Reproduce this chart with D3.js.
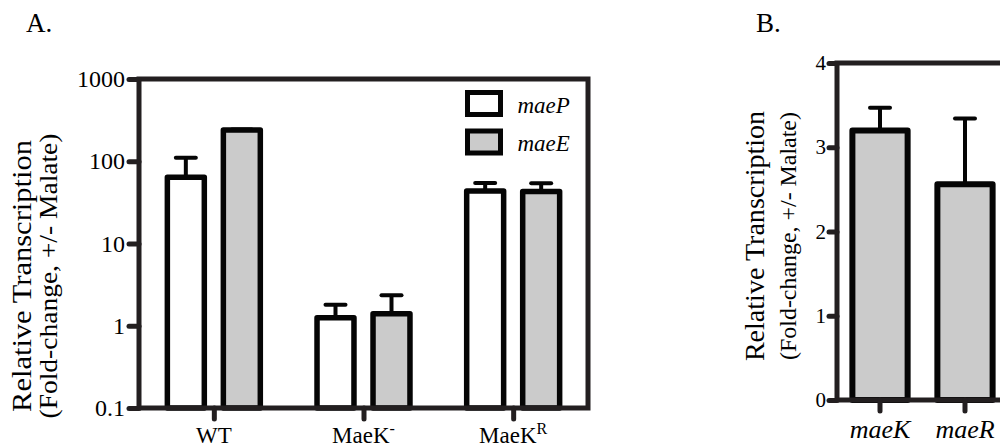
<!DOCTYPE html>
<html>
<head>
<meta charset="utf-8">
<script src="https://cdn.jsdelivr.net/npm/d3@7/dist/d3.min.js"></script>
<style>
  html, body { margin: 0; padding: 0; background: #fff; }
  svg { display: block; }
  svg text { font-family: "Liberation Serif", "Times New Roman", serif !important; fill: #000; }
</style>
</head>
<body>
<svg id="chart" width="1000" height="447"></svg>
<script>
// Panel A: fold-change of maeP / maeE per strain (log scale)
const strains = ["WT", "MaeK-", "MaeKR"];
const seriesNames = ["maeP", "maeE"];
const maePValues = [64, 1.25, 43.5];
const maePErrors = [46, 0.55, 11];
const maeEValues = [240, 1.4, 43];
const maeEErrors = [4, 0.95, 11];
const logTicks = [0.1, 1, 10, 100, 1000];

// Panel B: fold-change of maeK / maeR
const genes = ["maeK", "maeR"];
const geneValues = [3.2, 2.56];
const geneErrors = [0.27, 0.78];
const linearTicks = [0, 1, 2, 3, 4];

const FRAME = "#231f20";
const BAR_STROKE = "#050505";
const GREY = "#cbcbcb";
const svg = d3.select("#chart");

function frameTicks(g, axisGen) {
  g.call(axisGen);
  g.attr("font-family", null);
  g.select(".domain").remove();
  g.selectAll(".tick line")
    .attr("stroke", FRAME).attr("stroke-width", 5).attr("stroke-linecap", "round");
}

// rotated two-line axis title, each line stretched along its length
function yTitle(g, cx, cy, lines) {
  lines.forEach(l => {
    g.append("text")
      .attr("transform", `translate(${l.x},${cy}) rotate(-90) scale(${l.stretch},1)`)
      .attr("text-anchor", "middle").attr("font-size", l.size).text(l.text);
  });
}

// ---------- Panel A ----------
const A = { left: 139, right: 588, top: 79, bottom: 408 };
const yA = d3.scaleLog().domain([0.1, 1000]).range([A.bottom, A.top]);
const x0 = d3.scaleBand().domain(strains).range([A.left, A.right]).paddingInner(0).paddingOuter(0);
const x1 = d3.scaleBand().domain(seriesNames).range([-56, 56]).paddingInner(0.34).paddingOuter(0.17);

const rowsA = [];
strains.forEach((s, i) => {
  rowsA.push({ strain: s, series: "maeP", value: maePValues[i], err: maePErrors[i] });
  rowsA.push({ strain: s, series: "maeE", value: maeEValues[i], err: maeEErrors[i] });
});
const fillA = d3.scaleOrdinal().domain(seriesNames).range(["#ffffff", GREY]);
const cx = d => x0(d.strain) + x0.bandwidth() / 2 + x1(d.series) + x1.bandwidth() / 2;

const gA = svg.append("g");
gA.append("text").attr("x", 26).attr("y", 32).attr("font-size", 27).text("A.");

// error bars (behind bars)
const errA = gA.append("g").attr("stroke", BAR_STROKE).attr("stroke-width", 4);
errA.selectAll("line.stem").data(rowsA).join("line").attr("class", "stem")
  .attr("x1", cx).attr("x2", cx)
  .attr("y1", d => yA(d.value)).attr("y2", d => yA(d.value + d.err));
errA.selectAll("line.cap").data(rowsA).join("line").attr("class", "cap")
  .attr("stroke-linecap", "round")
  .attr("x1", d => cx(d) - 10).attr("x2", d => cx(d) + 10)
  .attr("y1", d => yA(d.value + d.err)).attr("y2", d => yA(d.value + d.err));

gA.append("g").selectAll("rect").data(rowsA).join("rect")
  .attr("x", d => cx(d) - x1.bandwidth() / 2)
  .attr("width", x1.bandwidth())
  .attr("y", d => yA(d.value))
  .attr("height", d => yA(0.1) - yA(d.value))
  .attr("fill", d => fillA(d.series))
  .attr("stroke", BAR_STROKE).attr("stroke-width", 5.5).attr("stroke-linejoin", "round");

// frame
gA.append("rect").attr("x", A.left).attr("y", A.top)
  .attr("width", A.right - A.left).attr("height", A.bottom - A.top)
  .attr("fill", "none").attr("stroke", FRAME).attr("stroke-width", 5);

// y axis
const yAxisA = gA.append("g").attr("transform", `translate(${A.left},0)`);
frameTicks(yAxisA, d3.axisLeft(yA).tickValues(logTicks).tickSize(10).tickPadding(4)
  .tickFormat(d3.format("~g")));
yAxisA.selectAll(".tick text").attr("font-size", 24).attr("fill", "#000");

// x axis
const xAxisA = gA.append("g").attr("transform", `translate(0,${A.bottom})`);
frameTicks(xAxisA, d3.axisBottom(d3.scalePoint().domain(strains)
  .range([x0(strains[0]) + x0.bandwidth() / 2, x0(strains[2]) + x0.bandwidth() / 2]))
  .tickSize(11).tickFormat(""));
const xLabA = gA.append("g").selectAll("text").data(strains).join("text")
  .attr("x", d => x0(d) + x0.bandwidth() / 2).attr("y", 443)
  .attr("text-anchor", "middle").attr("font-size", 23);
xLabA.each(function (d) {
  const t = d3.select(this);
  if (d === "WT") { t.text("WT"); return; }
  t.append("tspan").text("MaeK");
  t.append("tspan").attr("font-size", 16).attr("dy", -9).text(d === "MaeK-" ? "-" : "R");
});

// y title
yTitle(gA, 0, 276, [
  { x: 31, size: 28, stretch: 1.09, text: "Relative Transcription" },
  { x: 57, size: 25, stretch: 1.1, text: "(Fold-change, +/- Malate)" }
]);

// legend
const leg = gA.append("g").selectAll("g").data(seriesNames).join("g")
  .attr("transform", (d, i) => `translate(467.5,${92.5 + i * 38.5})`);
leg.append("rect").attr("width", 33).attr("height", 22)
  .attr("fill", d => fillA(d)).attr("stroke", BAR_STROKE).attr("stroke-width", 5);
leg.append("text").attr("x", 50).attr("y", 20).attr("font-size", 23)
  .attr("font-style", "italic").text(d => d);

// ---------- Panel B ----------
const B = { left: 837, right: 1008, top: 63, bottom: 400 };
const yB = d3.scaleLinear().domain([0, 4]).range([B.bottom, B.top]);
const xB = d3.scaleBand().domain(genes).range([B.left, B.right]).paddingInner(0.35).paddingOuter(0.181);
const rowsB = genes.map((g, i) => ({ gene: g, value: geneValues[i], err: geneErrors[i] }));
const cxB = d => xB(d.gene) + xB.bandwidth() / 2;

const gB = svg.append("g");
gB.append("text").attr("x", 756).attr("y", 32).attr("font-size", 27).text("B.");

const errB = gB.append("g").attr("stroke", BAR_STROKE).attr("stroke-width", 4);
errB.selectAll("line.stem").data(rowsB).join("line").attr("class", "stem")
  .attr("x1", cxB).attr("x2", cxB)
  .attr("y1", d => yB(d.value)).attr("y2", d => yB(d.value + d.err));
errB.selectAll("line.cap").data(rowsB).join("line").attr("class", "cap")
  .attr("stroke-linecap", "round")
  .attr("x1", d => cxB(d) - 10).attr("x2", d => cxB(d) + 10)
  .attr("y1", d => yB(d.value + d.err)).attr("y2", d => yB(d.value + d.err));

gB.append("g").selectAll("rect").data(rowsB).join("rect")
  .attr("x", d => xB(d.gene)).attr("width", xB.bandwidth())
  .attr("y", d => yB(d.value)).attr("height", d => yB(0) - yB(d.value))
  .attr("fill", GREY).attr("stroke", BAR_STROKE).attr("stroke-width", 6).attr("stroke-linejoin", "round");

gB.append("rect").attr("x", B.left).attr("y", B.top)
  .attr("width", B.right - B.left).attr("height", B.bottom - B.top)
  .attr("fill", "none").attr("stroke", FRAME).attr("stroke-width", 5);

const yAxisB = gB.append("g").attr("transform", `translate(${B.left},0)`);
frameTicks(yAxisB, d3.axisLeft(yB).tickValues(linearTicks).tickSize(8).tickPadding(3)
  .tickFormat(d3.format("d")));
yAxisB.selectAll(".tick text").attr("font-size", 21).attr("fill", "#000");

const xAxisB = gB.append("g").attr("transform", `translate(0,${B.bottom})`);
frameTicks(xAxisB, d3.axisBottom(xB).tickSize(11).tickFormat(""));
gB.append("g").selectAll("text").data(genes).join("text")
  .attr("x", d => xB(d) + xB.bandwidth() / 2).attr("y", 438)
  .attr("text-anchor", "middle").attr("font-size", 26).attr("font-style", "italic")
  .text(d => d);

yTitle(gB, 0, 236, [
  { x: 764, size: 27, stretch: 1.04, text: "Relative Transcription" },
  { x: 796, size: 23, stretch: 1.04, text: "(Fold-change, +/- Malate)" }
]);
</script>
</body>
</html>
